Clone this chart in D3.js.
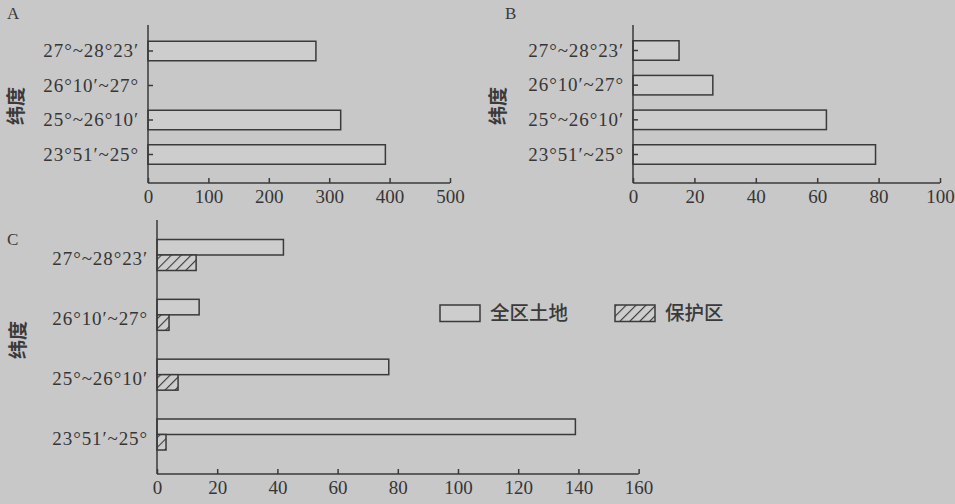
<!DOCTYPE html>
<html><head><meta charset="utf-8">
<script src="https://cdn.jsdelivr.net/npm/d3@7"></script>
<style>
body{margin:0;background:#c8c8c8;}
svg{display:block;}
.tk text{font-family:"Liberation Serif","Times New Roman",serif;font-size:19px;fill:#363636;}
.tk line{stroke:#3a3a3a;stroke-width:1.5;}
.tk path{display:none;}
</style></head><body>
<script>
// ---- data ----
const categories = ["27°~28°23′", "26°10′~27°", "25°~26°10′", "23°51′~25°"];
const valuesA = [278, 0, 319, 393];
const valuesB = [15, 26, 63, 79];
const valuesC_all = [42, 14, 77, 139];
const valuesC_reserve = [13, 4, 7, 3];
const ticksA = [0, 100, 200, 300, 400, 500];
const ticksB = [0, 20, 40, 60, 80, 100];
const ticksC = [0, 20, 40, 60, 80, 100, 120, 140, 160];
const legendLabels = ["全区土地", "保护区"];
const yTitle = "纬度";
const panelLabels = ["A", "B", "C"];

const W = 955, H = 504;
const ink = "#3a3a3a", barFill = "#cdcdcd";
const svg = d3.select("body").append("svg").attr("width", W).attr("height", H);
svg.append("rect").attr("width", W).attr("height", H).attr("fill", "#c8c8c8");

const defs = svg.append("defs");
const sp = 7;
const pat = defs.append("pattern").attr("id", "hatch").attr("patternUnits", "userSpaceOnUse")
  .attr("width", sp).attr("height", sp).attr("patternTransform", "rotate(45)");
pat.append("rect").attr("width", sp).attr("height", sp).attr("fill", barFill);
pat.append("line").attr("x1", 0).attr("y1", 0).attr("x2", 0).attr("y2", sp)
  .attr("stroke", ink).attr("stroke-width", 2.2);

function serifText(g, x, y, t, size) {
  return g.append("text").attr("x", x).attr("y", y).text(t)
    .attr("font-family", "'Liberation Serif','Times New Roman',serif")
    .attr("font-size", size).attr("fill", ink);
}
function yTitleText(x, y) {
  svg.append("text").attr("transform", `translate(${x},${y}) rotate(-90)`)
    .attr("text-anchor", "middle").attr("dy", "0.35em")
    .attr("font-family", "'Noto Sans CJK SC',sans-serif").attr("font-weight", "bold")
    .attr("font-size", 19).attr("fill", ink).text(yTitle);
}

function simplePanel(opt) {
  const x = d3.scaleLinear().domain([opt.ticks[0], opt.ticks[opt.ticks.length - 1]]).range([opt.x0, opt.x1]);
  const y = d3.scalePoint().domain(categories).range([opt.yc0, opt.yc1]);
  const bh = 19.5;
  svg.append("g").selectAll("rect").data(opt.values.map((v, i) => ({v, c: categories[i]})).filter(d => d.v > 0))
    .join("rect")
    .attr("x", x(0)).attr("y", d => y(d.c) - bh / 2 + 0.5)
    .attr("width", d => x(d.v) - x(0)).attr("height", bh)
    .attr("fill", barFill).attr("stroke", ink).attr("stroke-width", 1.5);
  // axes
  const gy = svg.append("g").attr("class", "tk").attr("transform", `translate(${opt.x0},0)`)
    .call(d3.axisLeft(y).tickSize(-5).tickPadding(9));
  gy.selectAll("text").attr("letter-spacing", "0.9px");
  svg.append("g").attr("class", "tk").attr("transform", `translate(0,${opt.yb})`)
    .call(d3.axisBottom(x).tickValues(opt.ticks).tickFormat(d3.format("d")).tickSize(-5).tickPadding(7));
  svg.append("line").attr("x1", opt.x0).attr("x2", opt.x0).attr("y1", opt.yt).attr("y2", opt.yb)
    .attr("stroke", ink).attr("stroke-width", 1.5);
  svg.append("line").attr("x1", opt.x0).attr("x2", opt.x1).attr("y1", opt.yb).attr("y2", opt.yb)
    .attr("stroke", ink).attr("stroke-width", 1.5);
  serifText(svg, opt.lx, 19, opt.label, 17);
  yTitleText(opt.tx, 106);
}

simplePanel({x0: 148, x1: 450, yt: 25, yb: 183, yc0: 50.5, yc1: 154, values: valuesA, ticks: ticksA, label: panelLabels[0], lx: 7, tx: 16});
simplePanel({x0: 633, x1: 940, yt: 25, yb: 183, yc0: 50, yc1: 154, values: valuesB, ticks: ticksB, label: panelLabels[1], lx: 505, tx: 498});

// ---- panel C ----
(function () {
  const x0 = 157, x1 = 638.6, yt = 220, yb = 474;
  const x = d3.scaleLinear().domain([0, 160]).range([x0, x1]);
  const y = d3.scalePoint().domain(categories).range([255, 434.5]);
  const bh = 15.5;
  const g = svg.append("g");
  g.selectAll("rect.all").data(valuesC_all.map((v, i) => ({v, c: categories[i]}))).join("rect")
    .attr("class", "all").attr("x", x(0)).attr("y", d => y(d.c) - bh)
    .attr("width", d => x(d.v) - x(0)).attr("height", bh)
    .attr("fill", barFill).attr("stroke", ink).attr("stroke-width", 1.5);
  g.selectAll("rect.res").data(valuesC_reserve.map((v, i) => ({v, c: categories[i]}))).join("rect")
    .attr("class", "res").attr("x", x(0)).attr("y", d => y(d.c))
    .attr("width", d => x(d.v) - x(0)).attr("height", bh)
    .attr("fill", "url(#hatch)").attr("stroke", ink).attr("stroke-width", 1.5);
  const gy = svg.append("g").attr("class", "tk").attr("transform", `translate(${x0},0)`)
    .call(d3.axisLeft(y).tickSize(0).tickPadding(9));
  gy.selectAll("text").attr("letter-spacing", "0.9px").attr("dy", "0.5em");
  svg.append("g").attr("class", "tk").attr("transform", `translate(0,${yb})`)
    .call(d3.axisBottom(x).tickValues(ticksC).tickFormat(d3.format("d")).tickSize(-5).tickPadding(7));
  svg.append("line").attr("x1", x0).attr("x2", x0).attr("y1", yt).attr("y2", yb)
    .attr("stroke", ink).attr("stroke-width", 1.5);
  svg.append("line").attr("x1", x0).attr("x2", x1).attr("y1", yb).attr("y2", yb)
    .attr("stroke", ink).attr("stroke-width", 1.5);
  serifText(svg, 7, 245, panelLabels[2], 17);
  yTitleText(18, 340);

  // legend
  const lg = svg.append("g");
  const items = [{x: 440, fill: barFill}, {x: 615, fill: "url(#hatch)"}];
  items.forEach((it, i) => {
    lg.append("rect").attr("x", it.x).attr("y", 305).attr("width", 40).attr("height", 16.5)
      .attr("fill", it.fill).attr("stroke", ink).attr("stroke-width", 1.5);
    lg.append("text").attr("x", it.x + 50).attr("y", 313).attr("dy", "0.35em")
      .attr("font-family", "'Noto Sans CJK SC',sans-serif").attr("font-size", 19.5)
      .attr("font-weight", 500).attr("fill", ink).text(legendLabels[i]);
  });
})();
</script>
</body></html>
